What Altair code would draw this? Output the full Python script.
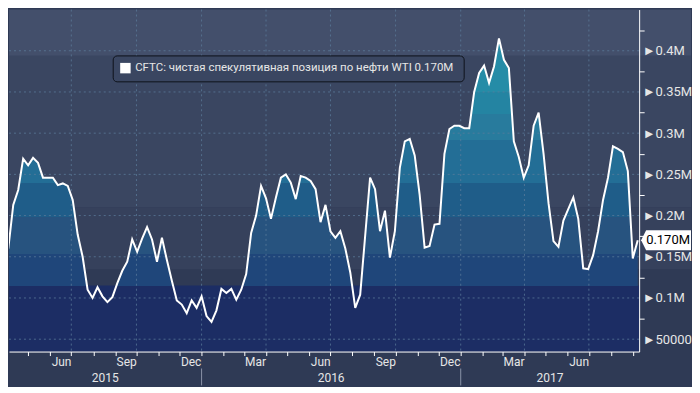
import altair as alt
import pandas as pd

# ---------------- data ----------------
FIRST_DATE = "2015-04-03"          # weekly observations (Fridays)
VALUES_K = [
    160, 213, 231, 269, 261, 270, 264, 246, 246, 246,
    237, 239, 236, 219, 177, 150, 110, 100, 113, 102,
    95, 101, 118, 133, 144, 171, 156, 172, 186, 171,
    144, 173, 146, 121, 97, 92, 81.5, 97, 88, 102,
    78, 71, 85, 111, 106, 111, 98, 110, 129, 179,
    200, 236, 221, 196, 222, 246, 250, 240, 220, 248,
    246, 242, 232, 192, 213, 181, 173, 181, 160, 131,
    88, 104, 175, 246, 232, 181, 206, 149, 181, 258,
    290, 293, 273, 225, 161, 163, 189, 190, 275, 305,
    309, 309, 306, 306, 350, 373, 382, 361, 381, 415,
    389, 379, 290, 271, 246, 261, 309, 325, 275, 215,
    169, 162, 194, 208, 222, 196, 136, 135, 152, 181,
    219, 246, 284, 281, 277, 254, 148, 170,
]
SERIES_NAME = "CFTC: чистая спекулятивная позиция по нефти WTI"
Y_DOMAIN = [35000, 450000]
X_DOMAIN = ["2015-04-04", "2017-09-10"]
Y_TICKS = list(range(50000, 450000, 25000))
Y_GRID = list(range(50000, 450000, 50000))
X_GRID = ["2015-07-01", "2015-10-01", "2016-01-01", "2016-04-01", "2016-07-01",
          "2016-10-01", "2017-01-01", "2017-04-01", "2017-07-01"]
YEARS = [2015, 2016, 2017]
YEAR_STARTS = ["2016-01-01", "2017-01-01"]
# banding of the background and of the area fill (values in units)
BG_BANDS = [(135000, 210000, "#36415c"), (210000, 394000, "#3a4661"), (394000, None, "#434f6b")]
AREA_EDGES = [115000, 153000, 198000, 240000, 292000, 323000, 350000]
AREA_COLORS = ["#1c2d64", "#1f467a", "#27537f", "#1f5d89", "#236e96", "#287b9d", "#2484a2", "#258ca7"]

W, H = 632, 343
RIGHT, BOTTOM = 52, 34
FONT = "Roboto"

values = [v * 1000 for v in VALUES_K]
dates = pd.date_range(FIRST_DATE, periods=len(values), freq="7D").strftime("%Y-%m-%d")
last = values[-1]
last_lbl = f"{last / 1e6:.3f}M"
df = pd.DataFrame({"date": dates, "v": values, "series": f"{SERIES_NAME}  {last_lbl}"})

X_SCALE = alt.Scale(type="utc", domain=X_DOMAIN)
Y_SCALE = alt.Scale(domain=Y_DOMAIN, nice=False, zero=False)

d0, d1 = pd.Timestamp(X_DOMAIN[0]), pd.Timestamp(X_DOMAIN[1])
month_starts = [pd.Timestamp(y, m, 1) for y in (2015, 2016, 2017) for m in range(1, 13)]
month_starts = [t for t in month_starts if d0 <= t <= d1]
label_limit_ms = int((d1 - pd.Timedelta(days=16)).value // 10**6)

X_AXIS = alt.Axis(
    values=[alt.DateTime(year=t.year, month=t.month, date=1, utc=True) for t in month_starts],
    labelExpr=("indexof([2,5,8,11], utcmonth(datum.value)) >= 0 && +datum.value < "
               f"{label_limit_ms} ? utcFormat(datum.value, '%b') : ''"),
    labelOffset=11, labelFlush=False, labelOverlap=False, labelPadding=1,
    labelColor="#e6e6e6", labelFontSize=12, labelFont=FONT,
    tickColor="#ffffff", tickSize=4, domainColor="#ffffff", grid=False, title=None, zindex=2,
)
Y_AXIS = alt.Axis(
    orient="right", values=Y_TICKS, grid=False, title=None, zindex=2,
    labelExpr="datum.value % 50000 === 0 ? '►' + (datum.value < 100000 ? format(datum.value, 'd') : format(datum.value / 1000000, '~g') + 'M') : ''",
    tickOpacity={"condition": {"test": "datum.value % 50000 === 0", "value": 0}, "value": 1},
    tickColor="#ffffff", tickSize=5, domainColor="#ffffff", labelPadding=-2,
    labelOverlap=False, labelColor="#e6e6e6", labelFontSize=13, labelFont=FONT,
)

def X(field):
    return alt.X(field, scale=X_SCALE, axis=X_AXIS)

def Y(field):
    return alt.Y(field, scale=Y_SCALE, axis=Y_AXIS)

# ---------------- background bands ----------------
layers = []
for lo, hi, col in BG_BANDS:
    enc = dict(y=Y("lo:Q"), x=alt.value(0), x2=alt.value(W + RIGHT))
    row = {"lo": lo}
    if hi is None:
        enc["y2"] = alt.value(0)
    else:
        row["hi"] = hi
        enc["y2"] = alt.Y2("hi:Q")
    layers.append(alt.Chart(pd.DataFrame([row])).mark_rect(color=col).encode(**enc))

# lowest band inside the plot (navy)
layers.append(
    alt.Chart(pd.DataFrame([{"lo": Y_DOMAIN[0], "hi": AREA_EDGES[0]}]))
    .mark_rect(color=AREA_COLORS[0])
    .encode(y=Y("lo:Q"), y2="hi:Q", x=alt.value(0), x2=alt.value(W))
)

# ---------------- banded area ----------------
vmax = max(values)
base = Y_DOMAIN[0]
def off(e):
    return (vmax - e) / (vmax - base)
cols_top = AREA_COLORS[::-1]
edges_top = AREA_EDGES[::-1]
stops = [alt.GradientStop(offset=0, color=cols_top[0])]
for i, e in enumerate(edges_top):
    o = max(0.0, min(1.0, off(e)))
    stops.append(alt.GradientStop(offset=o, color=cols_top[i]))
    stops.append(alt.GradientStop(offset=o, color=cols_top[i + 1]))
stops.append(alt.GradientStop(offset=1, color=cols_top[-1]))

layers.append(alt.Chart(df).mark_area(
    clip=True, opacity=1,
    color=alt.Gradient(gradient="linear", stops=stops, x1=0, x2=0, y1=0, y2=1),
).encode(x=X("date:T"), y=Y("v:Q"), y2=alt.datum(base)))

# ---------------- dotted grid ----------------
grid_style = dict(color="#5d7d9c", strokeDash=[2, 3], strokeWidth=1, opacity=0.75)
layers.append(alt.Chart(pd.DataFrame({"g": Y_GRID})).mark_rule(**grid_style).encode(y=Y("g:Q")))
layers.append(alt.Chart(pd.DataFrame({"g": X_GRID})).mark_rule(**grid_style).encode(x=X("g:T")))

# ---------------- line + legend ----------------
layers.append(alt.Chart(df).mark_line(clip=True, strokeWidth=2).encode(
    x=X("date:T"),
    y=Y("v:Q"),
    color=alt.Color("series:N", scale=alt.Scale(range=["#ffffff"]), legend=alt.Legend(
        title=None, orient="none", legendX=104, legendY=46,
        fillColor="#3a4661", strokeColor="#0e121a", cornerRadius=4, padding=7,
        labelColor="#e6e6e6", labelFontSize=11.5, labelFont=FONT, labelLimit=0,
        symbolType="square", symbolSize=110, symbolFillColor="#ffffff",
        symbolStrokeColor="#ffffff", symbolStrokeWidth=0, symbolOpacity=1,
    )),
))

# ---------------- year labels & separators ----------------
yr_rows = []
for y in YEARS:
    a = max(d0, pd.Timestamp(y, 1, 1))
    b = min(d1, pd.Timestamp(y + 1, 1, 1))
    yr_rows.append({"d": (a + (b - a) / 2).strftime("%Y-%m-%d"), "t": str(y)})
layers.append(alt.Chart(pd.DataFrame(yr_rows)).mark_text(
    color="#e6e6e6", fontSize=12, font=FONT, baseline="middle").encode(
    x=X("d:T"), y=alt.value(H + 27), text="t:N"))
layers.append(alt.Chart(pd.DataFrame({"d": YEAR_STARTS})).mark_rule(color="#8a93a8").encode(
    x=X("d:T"), y=alt.value(H + 17), y2=alt.value(H + BOTTOM)))

# ---------------- last value tag ----------------
TAG = "M -1 0 L -0.8 -0.4 L 1 -0.4 L 1 0.4 L -0.8 0.4 Z"
tag_df = pd.DataFrame([{"v": last, "lbl": last_lbl}])
layers.append(alt.Chart(tag_df).mark_point(shape=TAG, size=2500, filled=True, color="#ffffff",
                                           opacity=1, strokeWidth=0).encode(
    x=alt.value(W + 27), y=Y("v:Q")))
layers.append(alt.Chart(tag_df).mark_text(color="#000000", fontSize=13, font=FONT,
                                          baseline="middle", align="center").encode(
    x=alt.value(W + 29), y=Y("v:Q"), text="lbl:N"))

# invisible strip so the chart covers the x-axis zone
layers.append(alt.Chart(pd.DataFrame([{"a": 0}])).mark_rect(color="#2f3a55", opacity=0).encode(
    x=alt.value(0), x2=alt.value(W + RIGHT), y=alt.value(H), y2=alt.value(H + BOTTOM)))

chart = alt.layer(*layers).properties(
    width=W, height=H, background="#2f3a55", padding=0,
).configure_view(stroke=None)

chart.save("out.html", embed_options={"renderer": "svg", "actions": False})
